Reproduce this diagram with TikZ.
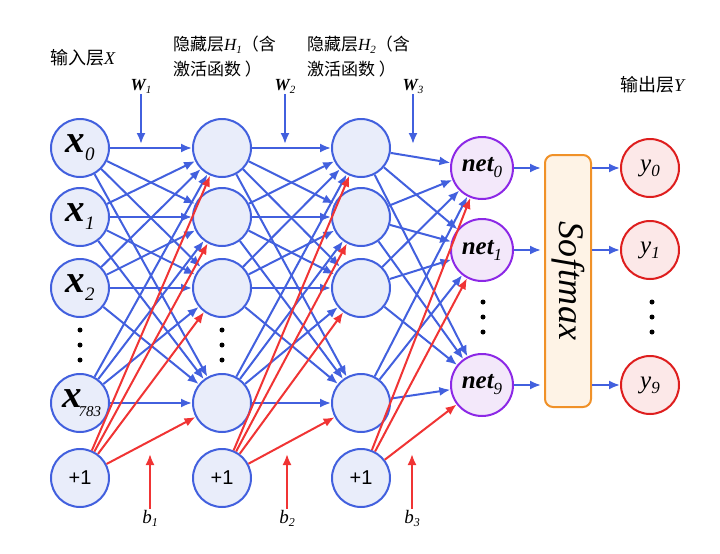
\documentclass[tikz,border=0pt]{standalone}
\usepackage{fontspec}
\setmainfont{Liberation Serif}
\newfontfamily\cjk{Noto Sans CJK SC}
\newfontfamily\plainsans{Liberation Sans}
\newfontfamily\spaced[LetterSpace=1.5]{Liberation Serif}
\usetikzlibrary{arrows.meta}
\definecolor{eblue}{RGB}{66,96,222}
\definecolor{nfill}{RGB}{233,237,250}
\definecolor{ered}{RGB}{240,52,52}
\definecolor{pborder}{RGB}{140,40,230}
\definecolor{pfill}{RGB}{243,232,250}
\definecolor{yborder}{RGB}{222,30,30}
\definecolor{yfill}{RGB}{252,232,232}
\definecolor{oborder}{RGB}{240,145,40}
\definecolor{ofill}{RGB}{254,243,230}
\newcommand{\lbl}[6]{{\fontsize{#1}{#1}\selectfont #2#3}{\fontsize{#4}{#4}\selectfont\itshape\raisebox{#5}{#6}}}
\begin{document}
\begin{tikzpicture}[x=1pt,y=-1pt,
  neuron/.style={circle, draw=eblue, fill=nfill, line width=2pt, minimum size=58pt, inner sep=0pt},
  netnode/.style={neuron, draw=pborder, fill=pfill, minimum size=62pt},
  outnode/.style={neuron, draw=yborder, fill=yfill},
  biasnode/.style={neuron, font=\plainsans\fontsize{20}{20}\selectfont},
  barrow/.style={draw=eblue, line width=2pt, -{Latex[length=11pt,width=9pt]}},
  rarrow/.style={draw=ered, line width=2pt, -{Latex[length=11pt,width=9pt]}},
  toplabel/.style={inner sep=0pt, anchor=west, font=\fontsize{17}{25}\selectfont},
  wlabel/.style={inner sep=1pt},
  dotmark/.style={circle, fill=black, inner sep=0pt, minimum size=5pt}
]
\useasboundingbox (0,0) rectangle (720,554);

% input layer
\node[neuron] (x0) at (80,148) {\lbl{39pt}{\bfseries\itshape}{x}{19pt}{-8pt}{0}};
\node[neuron] (x1) at (80,217) {\lbl{39pt}{\bfseries\itshape}{x}{19pt}{-8pt}{1}};
\node[neuron] (x2) at (80,288) {\lbl{39pt}{\bfseries\itshape}{x}{19pt}{-8pt}{2}};
\node[neuron] (x783) at (80,403) {\kern3pt\lbl{39pt}{\bfseries\itshape}{x}{15pt}{-9pt}{\kern-3pt 783}};
\node[biasnode] (bx) at (80,478) {+1};

% hidden layer 1
\node[neuron] (ha) at (222,148) {};
\node[neuron] (hb) at (222,217) {};
\node[neuron] (hc) at (222,288) {};
\node[neuron] (hd) at (222,403) {};
\node[biasnode] (bh) at (222,478) {+1};

% hidden layer 2
\node[neuron] (ga) at (361,148) {};
\node[neuron] (gb) at (361,217) {};
\node[neuron] (gc) at (361,288) {};
\node[neuron] (gd) at (361,403) {};
\node[biasnode] (bg) at (361,478) {+1};

% net layer
\node[netnode] (n0) at (482,168) {\lbl{25pt}{\bfseries\itshape}{net}{17pt}{-6pt}{0}};
\node[netnode] (n1) at (482,250) {\lbl{25pt}{\bfseries\itshape}{net}{17pt}{-6pt}{1}};
\node[netnode] (n9) at (482,385) {\lbl{25pt}{\bfseries\itshape}{net}{17pt}{-6pt}{9}};

% softmax
\node[draw=oborder, fill=ofill, rounded corners=8pt, line width=2pt,
      minimum width=46pt, minimum height=252pt, inner sep=0pt] (sm) at (568,281)
      {\rotatebox{-90}{\spaced\fontsize{36}{36}\selectfont\itshape Softmax}};

% outputs
\node[outnode] (y0) at (650,168) {\lbl{25pt}{\itshape}{y}{17pt}{-5pt}{0}};
\node[outnode] (y1) at (650,250) {\lbl{25pt}{\itshape}{y}{17pt}{-5pt}{1}};
\node[outnode] (y9) at (650,385) {\lbl{25pt}{\itshape}{y}{17pt}{-5pt}{9}};

% dots
\foreach \cx/\cy in {80/345, 222/345, 483/317, 652/317}{
  \foreach \dy in {-15,0,15}
    \node[dotmark] at (\cx,\cy+\dy) {};
}

% top labels
\node[toplabel] (lx) at (50,58) {\fontsize{18}{18}\selectfont{\cjk 输入层}{\itshape X}};
\node[toplabel, align=left] (lh1) at (173,57) {{\cjk 隐藏层}\lbl{17pt}{\itshape}{H}{11pt}{-3pt}{1}{\cjk （含}\\{\cjk 激活函数 ）}};
\node[toplabel, align=left] (lh2) at (307,57) {{\cjk 隐藏层}\lbl{17pt}{\itshape}{H}{11pt}{-3pt}{2}{\cjk （含}\\{\cjk 激活函数 ）}};
\node[toplabel] (ly) at (620,85) {\fontsize{18}{18}\selectfont{\cjk 输出层}{\itshape Y}};

% weight labels
\node[wlabel] (w1) at (141,86) {\lbl{17pt}{\bfseries\itshape}{W}{11pt}{-3pt}{1}};
\node[wlabel] (w2) at (285,86) {\lbl{17pt}{\bfseries\itshape}{W}{11pt}{-3pt}{2}};
\node[wlabel] (w3) at (413,86) {\lbl{17pt}{\bfseries\itshape}{W}{11pt}{-3pt}{3}};
\coordinate (w1e) at (141,144);
\coordinate (w2e) at (285,144);
\coordinate (w3e) at (413,144);
\draw[barrow] (w1) -- (w1e);
\draw[barrow] (w2) -- (w2e);
\draw[barrow] (w3) -- (w3e);

% bias labels
\node[wlabel] (b1) at (150,518) {\lbl{19pt}{\itshape}{b}{12pt}{-3pt}{1}};
\node[wlabel] (b2) at (287,518) {\lbl{19pt}{\itshape}{b}{12pt}{-3pt}{2}};
\node[wlabel] (b3) at (412,518) {\lbl{19pt}{\itshape}{b}{12pt}{-3pt}{3}};
\coordinate (b1e) at (150,454);
\coordinate (b2e) at (287,454);
\coordinate (b3e) at (412,454);
\draw[rarrow] (b1) -- (b1e);
\draw[rarrow] (b2) -- (b2e);
\draw[rarrow] (b3) -- (b3e);

% connections
\foreach \s in {x0,x1,x2,x783}
  \foreach \t in {ha,hb,hc,hd}
    \draw[barrow] (\s) -- (\t);
\foreach \t in {ha,hb,hc,hd}
  \draw[rarrow] (bx) -- (\t);
\foreach \s in {ha,hb,hc,hd}
  \foreach \t in {ga,gb,gc,gd}
    \draw[barrow] (\s) -- (\t);
\foreach \t in {ga,gb,gc,gd}
  \draw[rarrow] (bh) -- (\t);
\foreach \s in {ga,gb,gc,gd}
  \foreach \t in {n0,n1,n9}
    \draw[barrow] (\s) -- (\t);
\foreach \t in {n0,n1,n9}
  \draw[rarrow] (bg) -- (\t);

\foreach \t in {n0,n1,n9}
  \draw[barrow, shorten >=3pt] (\t) -- (sm.west |- \t);
\foreach \t in {y0,y1,y9}
  \draw[barrow] (sm.east |- \t) -- (\t);
\end{tikzpicture}
\end{document}
